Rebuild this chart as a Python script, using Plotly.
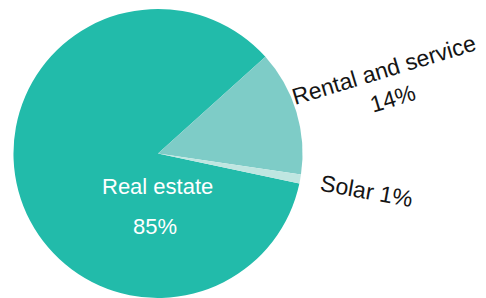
import math
import plotly.graph_objects as go

categories = ["Real estate", "Rental and service", "Solar"]
values = [85, 14, 1]
colors = ["#22BBAA", "#7ECCC7", "#BFE6E1"]
pct_labels = ["85%", "14%", "1%"]

W, H = 486, 298
rotation = 102  # degrees clockwise from 12 o'clock where first slice starts

# pie geometry in pixels
dom_y = [0.0, 0.97]
R = (dom_y[1] - dom_y[0]) * H / 2
cx_px = 158
dom_x = [(cx_px - R) / W, (cx_px + R) / W]
cx = (dom_x[0] + dom_x[1]) / 2
cy = (dom_y[0] + dom_y[1]) / 2

fig = go.Figure(go.Pie(
    labels=categories, values=values, sort=False, direction="clockwise",
    rotation=rotation, marker=dict(colors=colors, line=dict(width=0)),
    textinfo="none", hoverinfo="label+percent", showlegend=False,
    domain=dict(x=dom_x, y=dom_y),
))

font = dict(family="Liberation Sans, Arial, sans-serif", size=23, color="#151515")
total = sum(values)
cum = 0
annotations = []
label_dist = {"Rental and service": 241, "Solar": 212}
for cat, v, pct in zip(categories, values, pct_labels):
    start = rotation + cum / total * 360
    cum += v
    mid = start + v / total * 360 / 2
    a = math.radians(mid)
    if cat in label_dist:
        d = label_dist[cat]
        text = f"{cat}<br>{pct}" if cat == "Rental and service" else f"{cat} {pct}"
        annotations.append(dict(
            x=cx + d * math.sin(a) / W, y=cy + d * math.cos(a) / H,
            xref="paper", yref="paper", text=text, showarrow=False,
            textangle=mid - 90, font=font, xanchor="center", yanchor="middle",
        ))
    else:
        wfont = dict(font, color="white", size=22)
        annotations.append(dict(
            x=cx - 1 / W, y=cy - 0.23 * R / H, xref="paper", yref="paper",
            text=cat, showarrow=False, font=wfont, xanchor="center", yanchor="middle"))
        annotations.append(dict(
            x=cx - 3 / W, y=cy - 0.505 * R / H, xref="paper", yref="paper",
            text=pct, showarrow=False, font=wfont, xanchor="center", yanchor="middle"))

fig.update_layout(
    width=W, height=H, margin=dict(l=0, r=0, t=0, b=0),
    paper_bgcolor="white", plot_bgcolor="white", annotations=annotations,
)
fig.write_html("out.html", config={"displayModeBar": False},
               post_script="document.body.style.margin='0';")
